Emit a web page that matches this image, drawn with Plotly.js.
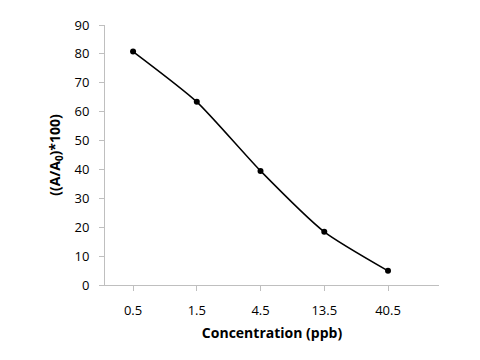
<!DOCTYPE html>
<html>
<head>
<meta charset="utf-8">
<script src="https://cdn.plot.ly/plotly-3.0.1.min.js"></script>
<style>html,body{margin:0;padding:0;background:#fff}#chart{width:480px;height:360px}</style>
</head>
<body>
<div id="chart"></div>
<script>
const categories = ["0.5", "1.5", "4.5", "13.5", "40.5"];
const values = [80.8, 63.4, 39.5, 18.4, 4.9];
const yTicks = [0, 10, 20, 30, 40, 50, 60, 70, 80, 90];

const trace = {
  x: categories,
  y: values,
  type: "scatter",
  mode: "lines+markers",
  line: {color: "#000000", width: 1.5, shape: "spline", smoothing: 0.6},
  marker: {color: "#000000", size: 6},
  hoverinfo: "skip"
};

const layout = {
  width: 480,
  height: 360,
  margin: {l: 105, r: 41, t: 25, b: 75},
  paper_bgcolor: "#ffffff",
  plot_bgcolor: "#ffffff",
  showlegend: false,
  font: {family: "Open Sans, Liberation Sans, sans-serif", size: 13, color: "#000000"},
  xaxis: {
    type: "category",
    range: [-0.44, 4.8],
    showgrid: false,
    zeroline: false,
    showline: true,
    linecolor: "#bfbfbf",
    linewidth: 1,
    ticks: "outside",
    ticklen: 5,
    tickcolor: "#bfbfbf",
    ticklabelstandoff: 8,
    tickfont: {size: 13, color: "#000000"},
    title: {text: "Concentration (ppb)", font: {size: 14, color: "#000000", weight: "bold"}, standoff: 10}
  },
  yaxis: {
    range: [0, 90],
    tickvals: yTicks,
    showgrid: false,
    zeroline: false,
    showline: true,
    linecolor: "#bfbfbf",
    linewidth: 1,
    ticks: "outside",
    ticklen: 5,
    tickcolor: "#bfbfbf",
    ticklabelstandoff: 7,
    tickfont: {size: 13, color: "#000000"},
    title: {text: "((A/A<sub>0</sub>)*100)", font: {size: 14, color: "#000000", weight: "bold"}, standoff: 10}
  }
};

Plotly.newPlot("chart", [trace], layout, {displayModeBar: false, staticPlot: true});
</script>
</body>
</html>
